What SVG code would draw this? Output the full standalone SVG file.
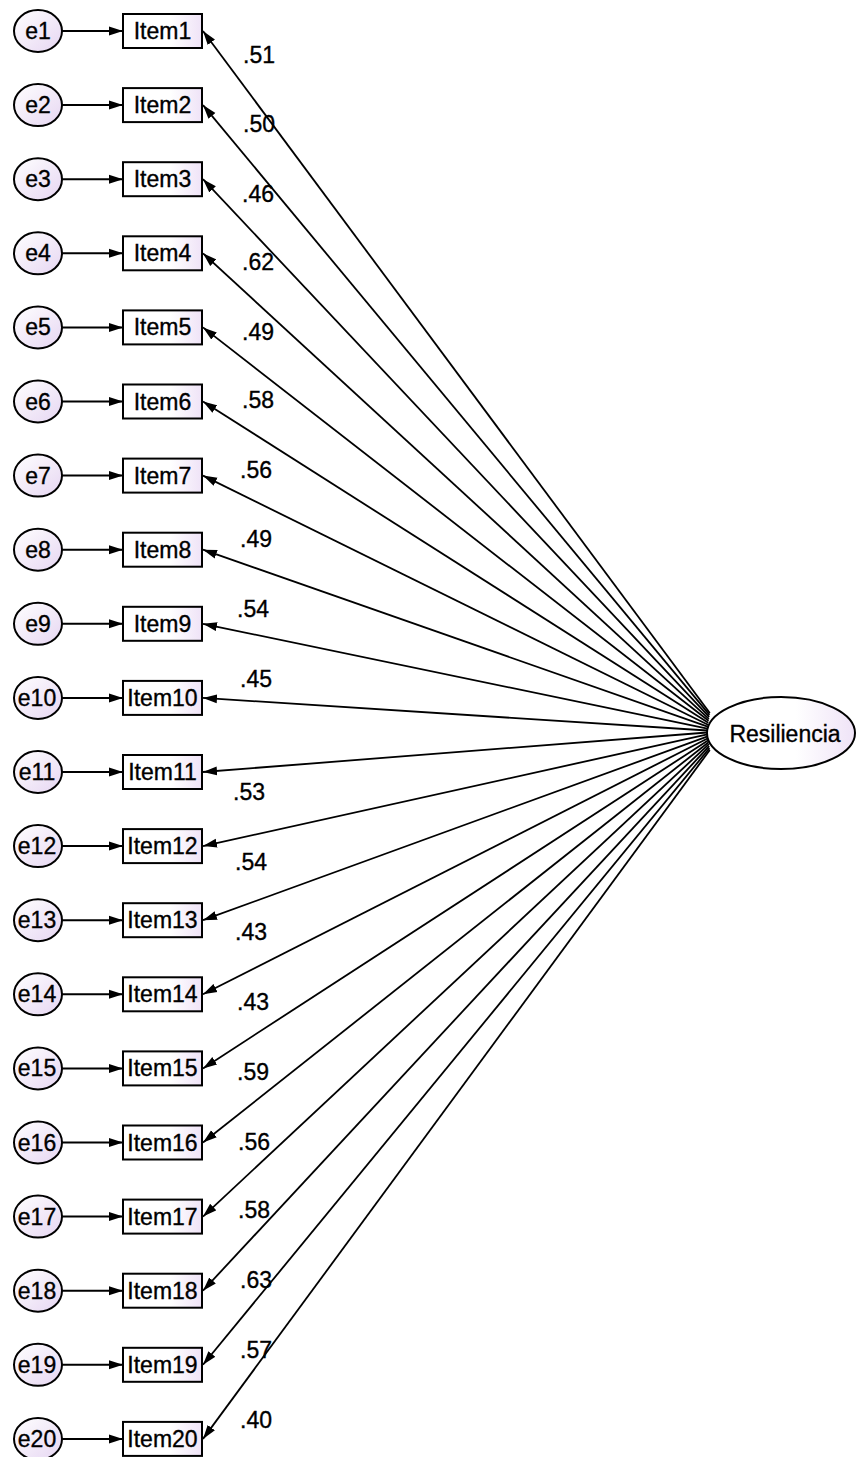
<svg xmlns="http://www.w3.org/2000/svg" width="856" height="1457" viewBox="0 0 856 1457">
<style>
text{font-family:"Liberation Sans",Arial,sans-serif;font-size:23px;fill:#000;stroke:#000;stroke-width:0.35}
.err{fill:url(#gErr);stroke:#000;stroke-width:2}
.box{fill:url(#gBox);stroke:#000;stroke-width:2}
.lat{fill:url(#gBox);stroke:#000;stroke-width:2}
.c{text-anchor:middle}
.ln{stroke:#000;stroke-width:1.8;fill:none;marker-end:url(#ah)}
.le{stroke:#000;stroke-width:2;fill:none;marker-end:url(#ah)}
</style>
<defs>
<linearGradient id="gErr" x1="0" y1="0" x2="1" y2="1"><stop offset="0" stop-color="#ffffff"/><stop offset="1" stop-color="#e6d6f2"/></linearGradient>
<linearGradient id="gBox" x1="0" y1="0" x2="1" y2="0"><stop offset="0" stop-color="#ffffff"/><stop offset="0.6" stop-color="#ffffff"/><stop offset="1" stop-color="#efe3f7"/></linearGradient>
<marker id="ah" viewBox="0 0 14 10" refX="14" refY="5" markerWidth="14" markerHeight="10" markerUnits="userSpaceOnUse" orient="auto"><path d="M0,0.5 L14,5 L0,9.5 z" fill="#000"/></marker>
</defs>
<g id="connectors">
<line class="le" x1="62" y1="31" x2="123" y2="31"/>
<line class="le" x1="62" y1="105.1" x2="123" y2="105.1"/>
<line class="le" x1="62" y1="179.2" x2="123" y2="179.2"/>
<line class="le" x1="62" y1="253.3" x2="123" y2="253.3"/>
<line class="le" x1="62" y1="327.4" x2="123" y2="327.4"/>
<line class="le" x1="62" y1="401.5" x2="123" y2="401.5"/>
<line class="le" x1="62" y1="475.6" x2="123" y2="475.6"/>
<line class="le" x1="62" y1="549.7" x2="123" y2="549.7"/>
<line class="le" x1="62" y1="623.8" x2="123" y2="623.8"/>
<line class="le" x1="62" y1="697.9" x2="123" y2="697.9"/>
<line class="le" x1="62" y1="772" x2="123" y2="772"/>
<line class="le" x1="62" y1="846.1" x2="123" y2="846.1"/>
<line class="le" x1="62" y1="920.2" x2="123" y2="920.2"/>
<line class="le" x1="62" y1="994.3" x2="123" y2="994.3"/>
<line class="le" x1="62" y1="1068.4" x2="123" y2="1068.4"/>
<line class="le" x1="62" y1="1142.5" x2="123" y2="1142.5"/>
<line class="le" x1="62" y1="1216.6" x2="123" y2="1216.6"/>
<line class="le" x1="62" y1="1290.7" x2="123" y2="1290.7"/>
<line class="le" x1="62" y1="1364.8" x2="123" y2="1364.8"/>
<line class="le" x1="62" y1="1438.9" x2="123" y2="1438.9"/>
<line class="ln" x1="709.8" y1="713" x2="203" y2="31"/>
<line class="ln" x1="709.5" y1="714.9" x2="203" y2="105.1"/>
<line class="ln" x1="709.2" y1="716.9" x2="203" y2="179.2"/>
<line class="ln" x1="708.9" y1="718.8" x2="203" y2="253.3"/>
<line class="ln" x1="708.6" y1="720.8" x2="203" y2="327.4"/>
<line class="ln" x1="708.3" y1="722.7" x2="203" y2="401.5"/>
<line class="ln" x1="708" y1="724.7" x2="203" y2="475.6"/>
<line class="ln" x1="707.7" y1="726.6" x2="203" y2="549.7"/>
<line class="ln" x1="707.4" y1="728.6" x2="203" y2="623.8"/>
<line class="ln" x1="707.2" y1="730.5" x2="203" y2="697.9"/>
<line class="ln" x1="707.2" y1="732.5" x2="203" y2="772"/>
<line class="ln" x1="707.4" y1="734.4" x2="203" y2="846.1"/>
<line class="ln" x1="707.7" y1="736.4" x2="203" y2="920.2"/>
<line class="ln" x1="708" y1="738.3" x2="203" y2="994.3"/>
<line class="ln" x1="708.3" y1="740.3" x2="203" y2="1068.4"/>
<line class="ln" x1="708.6" y1="742.2" x2="203" y2="1142.5"/>
<line class="ln" x1="708.9" y1="744.2" x2="203" y2="1216.6"/>
<line class="ln" x1="709.2" y1="746.1" x2="203" y2="1290.7"/>
<line class="ln" x1="709.5" y1="748.1" x2="203" y2="1364.8"/>
<line class="ln" x1="709.8" y1="750" x2="203" y2="1438.9"/>
</g>
<g id="loadings">
<text x="243" y="63">.51</text>
<text x="243" y="132">.50</text>
<text x="242" y="202">.46</text>
<text x="242" y="270">.62</text>
<text x="242" y="340">.49</text>
<text x="242" y="408">.58</text>
<text x="240" y="478">.56</text>
<text x="240" y="547">.49</text>
<text x="237" y="617">.54</text>
<text x="240" y="687">.45</text>
<text x="233" y="800">.53</text>
<text x="235" y="870">.54</text>
<text x="235" y="940">.43</text>
<text x="237" y="1010">.43</text>
<text x="237" y="1080">.59</text>
<text x="238" y="1150">.56</text>
<text x="238" y="1218">.58</text>
<text x="240" y="1288">.63</text>
<text x="240" y="1358">.57</text>
<text x="240" y="1428">.40</text>
</g>
<g id="e1"><ellipse class="err" cx="38" cy="31" rx="24" ry="21"/><text class="c" x="38" y="39">e1</text></g>
<g id="e2"><ellipse class="err" cx="38" cy="105.1" rx="24" ry="21"/><text class="c" x="38" y="113.1">e2</text></g>
<g id="e3"><ellipse class="err" cx="38" cy="179.2" rx="24" ry="21"/><text class="c" x="38" y="187.2">e3</text></g>
<g id="e4"><ellipse class="err" cx="38" cy="253.3" rx="24" ry="21"/><text class="c" x="38" y="261.3">e4</text></g>
<g id="e5"><ellipse class="err" cx="38" cy="327.4" rx="24" ry="21"/><text class="c" x="38" y="335.4">e5</text></g>
<g id="e6"><ellipse class="err" cx="38" cy="401.5" rx="24" ry="21"/><text class="c" x="38" y="409.5">e6</text></g>
<g id="e7"><ellipse class="err" cx="38" cy="475.6" rx="24" ry="21"/><text class="c" x="38" y="483.6">e7</text></g>
<g id="e8"><ellipse class="err" cx="38" cy="549.7" rx="24" ry="21"/><text class="c" x="38" y="557.7">e8</text></g>
<g id="e9"><ellipse class="err" cx="38" cy="623.8" rx="24" ry="21"/><text class="c" x="38" y="631.8">e9</text></g>
<g id="e10"><ellipse class="err" cx="38" cy="697.9" rx="24" ry="21"/><text class="c" x="37" y="705.9">e10</text></g>
<g id="e11"><ellipse class="err" cx="38" cy="772" rx="24" ry="21"/><text class="c" x="37" y="780">e11</text></g>
<g id="e12"><ellipse class="err" cx="38" cy="846.1" rx="24" ry="21"/><text class="c" x="37" y="854.1">e12</text></g>
<g id="e13"><ellipse class="err" cx="38" cy="920.2" rx="24" ry="21"/><text class="c" x="37" y="928.2">e13</text></g>
<g id="e14"><ellipse class="err" cx="38" cy="994.3" rx="24" ry="21"/><text class="c" x="37" y="1002.3">e14</text></g>
<g id="e15"><ellipse class="err" cx="38" cy="1068.4" rx="24" ry="21"/><text class="c" x="37" y="1076.4">e15</text></g>
<g id="e16"><ellipse class="err" cx="38" cy="1142.5" rx="24" ry="21"/><text class="c" x="37" y="1150.5">e16</text></g>
<g id="e17"><ellipse class="err" cx="38" cy="1216.6" rx="24" ry="21"/><text class="c" x="37" y="1224.6">e17</text></g>
<g id="e18"><ellipse class="err" cx="38" cy="1290.7" rx="24" ry="21"/><text class="c" x="37" y="1298.7">e18</text></g>
<g id="e19"><ellipse class="err" cx="38" cy="1364.8" rx="24" ry="21"/><text class="c" x="37" y="1372.8">e19</text></g>
<g id="e20"><ellipse class="err" cx="38" cy="1438.9" rx="24" ry="21"/><text class="c" x="37" y="1446.9">e20</text></g>
<g id="item1"><rect class="box" x="123" y="14" width="79" height="34"/><text class="c" x="162.5" y="39">Item1</text></g>
<g id="item2"><rect class="box" x="123" y="88.1" width="79" height="34"/><text class="c" x="162.5" y="113.1">Item2</text></g>
<g id="item3"><rect class="box" x="123" y="162.2" width="79" height="34"/><text class="c" x="162.5" y="187.2">Item3</text></g>
<g id="item4"><rect class="box" x="123" y="236.3" width="79" height="34"/><text class="c" x="162.5" y="261.3">Item4</text></g>
<g id="item5"><rect class="box" x="123" y="310.4" width="79" height="34"/><text class="c" x="162.5" y="335.4">Item5</text></g>
<g id="item6"><rect class="box" x="123" y="384.5" width="79" height="34"/><text class="c" x="162.5" y="409.5">Item6</text></g>
<g id="item7"><rect class="box" x="123" y="458.6" width="79" height="34"/><text class="c" x="162.5" y="483.6">Item7</text></g>
<g id="item8"><rect class="box" x="123" y="532.7" width="79" height="34"/><text class="c" x="162.5" y="557.7">Item8</text></g>
<g id="item9"><rect class="box" x="123" y="606.8" width="79" height="34"/><text class="c" x="162.5" y="631.8">Item9</text></g>
<g id="item10"><rect class="box" x="123" y="680.9" width="79" height="34"/><text class="c" x="162.5" y="705.9">Item10</text></g>
<g id="item11"><rect class="box" x="123" y="755" width="79" height="34"/><text class="c" x="162.5" y="780">Item11</text></g>
<g id="item12"><rect class="box" x="123" y="829.1" width="79" height="34"/><text class="c" x="162.5" y="854.1">Item12</text></g>
<g id="item13"><rect class="box" x="123" y="903.2" width="79" height="34"/><text class="c" x="162.5" y="928.2">Item13</text></g>
<g id="item14"><rect class="box" x="123" y="977.3" width="79" height="34"/><text class="c" x="162.5" y="1002.3">Item14</text></g>
<g id="item15"><rect class="box" x="123" y="1051.4" width="79" height="34"/><text class="c" x="162.5" y="1076.4">Item15</text></g>
<g id="item16"><rect class="box" x="123" y="1125.5" width="79" height="34"/><text class="c" x="162.5" y="1150.5">Item16</text></g>
<g id="item17"><rect class="box" x="123" y="1199.6" width="79" height="34"/><text class="c" x="162.5" y="1224.6">Item17</text></g>
<g id="item18"><rect class="box" x="123" y="1273.7" width="79" height="34"/><text class="c" x="162.5" y="1298.7">Item18</text></g>
<g id="item19"><rect class="box" x="123" y="1347.8" width="79" height="34"/><text class="c" x="162.5" y="1372.8">Item19</text></g>
<g id="item20"><rect class="box" x="123" y="1421.9" width="79" height="34"/><text class="c" x="162.5" y="1446.9">Item20</text></g>
<g id="resiliencia"><ellipse class="lat" cx="781" cy="733" rx="74" ry="36"/><text class="c" x="785" y="742">Resiliencia</text></g>
</svg>
